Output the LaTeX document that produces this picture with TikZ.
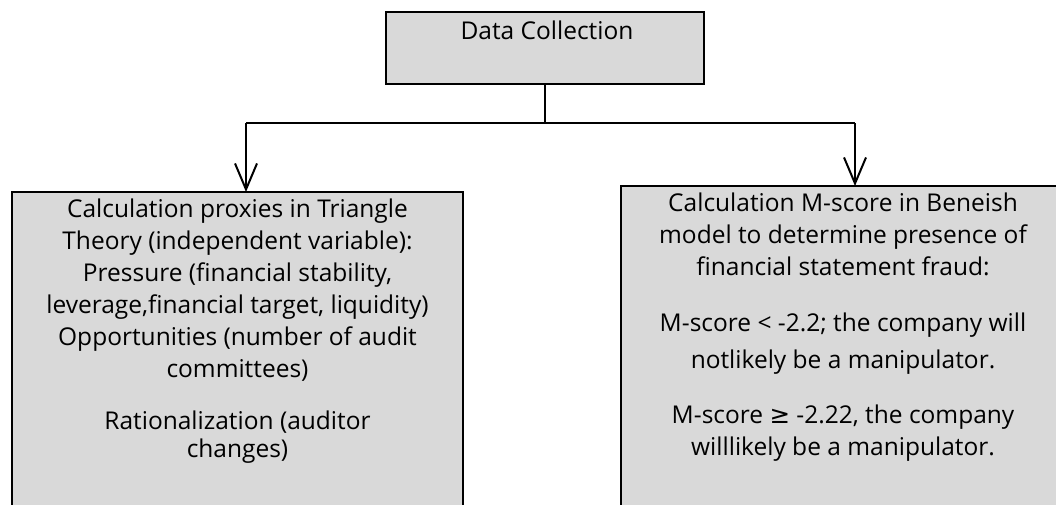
\documentclass[tikz,border=0pt]{standalone}
\usepackage{fontspec}
\setmainfont{Open Sans}
\newfontfamily\symfont{DejaVu Sans}
\usetikzlibrary{arrows.meta}
\definecolor{boxgray}{HTML}{D9D9D9}
\tikzset{
  box/.style={draw=black, fill=boxgray, line width=2pt, outer sep=0pt, inner sep=0pt},
  boxtext/.style={align=center, inner sep=0pt, font=\fontsize{24.5}{32}\selectfont},
  conn/.style={line width=2pt, black},
  arr/.style={conn, -{Straight Barb[length=26pt, width=22pt, line width=2pt]}}
}
\begin{document}
\begin{tikzpicture}[x=1pt, y=-1pt]
\useasboundingbox (0,0) rectangle (1056,504);
% top box
\node[box, anchor=north west, minimum width=318, minimum height=72] (dc) at (386,12) {};
\node[boxtext, anchor=base] (dct) at (547,39) {Data Collection};
% lower boxes
\node[box, anchor=north west, minimum width=451, minimum height=340] (lb) at (12,192) {};
\node[box, anchor=north west, minimum width=460, minimum height=340] (rb) at (621,186) {};
% texts
\node[boxtext, anchor=north] (lbt) at (237.5,199) {Calculation proxies in Triangle\\
Theory (independent variable):\\
Pressure (financial stability,\\
leverage,financial target, liquidity)\\
Opportunities (number of audit\\
committees)\\[20pt]
Rationalization (auditor\\[-4pt]
changes)};
\node[boxtext, anchor=north] (rbt) at (843,193) {Calculation M-score in Beneish\\
model to determine presence of\\
financial statement fraud:\\[24pt]
M-score < -2.2; the company will\\[5pt]
notlikely be a manipulator.\\[23pt]
M-score {\symfont ≥} -2.22, the company\\
willlikely be a manipulator.};
% connectors
\coordinate (split) at (545,123);
\coordinate (jl) at (246,123);
\coordinate (jr) at (855,123);
\draw[conn] (dc.south) -- (split);
\draw[conn] (jl) -- (jr);
\draw[arr] (jl) -- (jl |- lb.north);
\draw[arr] (jr) -- (jr |- rb.north);
\end{tikzpicture}
\end{document}
